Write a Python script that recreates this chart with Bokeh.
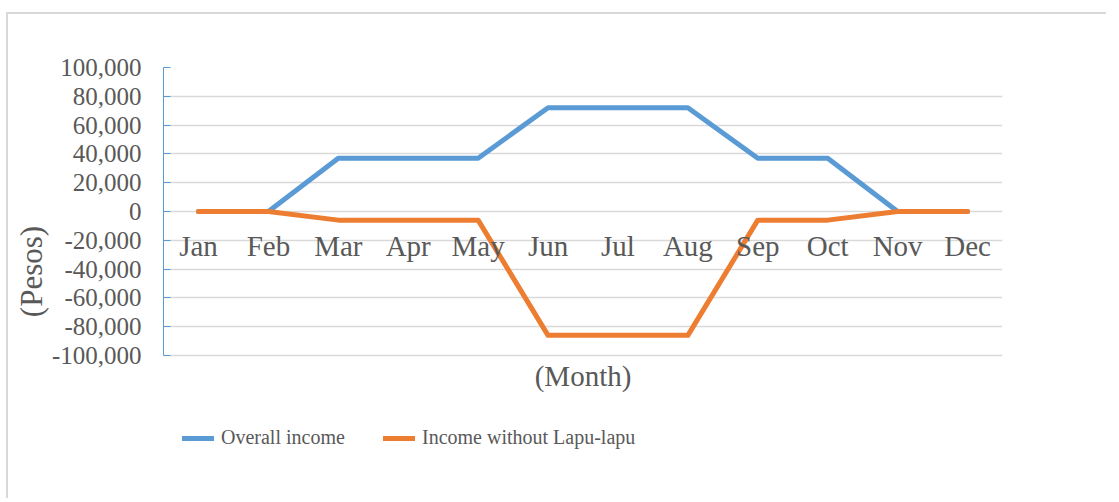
from bokeh.plotting import figure
from bokeh.models import (FactorRange, Range1d, NumeralTickFormatter, FixedTicker,
                          Legend, LegendItem, ColumnDataSource)
from bokeh.core.properties import value
from bokeh.embed import file_html
from bokeh.resources import INLINE

months = ["Jan", "Feb", "Mar", "Apr", "May", "Jun", "Jul", "Aug", "Sep", "Oct", "Nov", "Dec"]
overall_income = [0, 0, 37000, 37000, 37000, 72000, 72000, 72000, 37000, 37000, 0, 0]
income_without_lapu = [0, 0, -6000, -6000, -6000, -86000, -86000, -86000, -6000, -6000, 0, 0]
y_ticks = [-100000, -80000, -60000, -40000, -20000, 0, 20000, 40000, 60000, 80000, 100000]
series_names = ["Overall income", "Income without Lapu-lapu"]
x_title = "(Month)"
y_title = "(Pesos)"

FONT = "Liberation Serif"
TXT = "#595959"
BLUE = "#5B9BD5"
ORANGE = "#ED7D31"

# layout (pixels): value axis spans 288 px for 200,000; the frame continues
# below it to hold the axis title and the legend
AX_PX = 288.0
FRAME_PX = 408.0
y_lo, y_hi = y_ticks[0], y_ticks[-1]
y_start = y_hi - FRAME_PX * (y_hi - y_lo) / AX_PX

src = ColumnDataSource(dict(m=months, a=overall_income, b=income_without_lapu,
                            z=[0] * len(months)))

p = figure(width=1100, height=486,
           x_range=FactorRange(*months, range_padding=0),
           y_range=Range1d(y_start, y_hi),
           output_backend="svg", toolbar_location=None,
           min_border_left=155, min_border_right=106,
           min_border_top=53, min_border_bottom=25)
p.styles = {"border-top": "2px solid #d9d9d9", "border-left": "2px solid #d9d9d9",
            "margin-left": "6px", "margin-top": "12px"}
p.outline_line_color = None
p.background_fill_color = "white"
p.border_fill_color = "white"

# grid
p.xgrid.grid_line_color = None
p.ygrid.grid_line_color = "#d9d9d9"
p.ygrid.grid_line_width = 1.5

# y axis
yax = p.yaxis[0]
yax.ticker = FixedTicker(ticks=y_ticks)
yax.bounds = (y_lo, y_hi)
yax.formatter = NumeralTickFormatter(format="0,0")
yax.axis_line_color = BLUE
yax.axis_line_width = 1
yax.major_tick_line_color = BLUE
yax.major_tick_in = 7
yax.major_tick_out = 0
yax.minor_tick_line_color = None
yax.major_label_standoff = 22
yax.major_label_text_font = FONT
yax.major_label_text_font_size = "25px"
yax.major_label_text_color = TXT
yax.axis_label = y_title
yax.axis_label_text_font = FONT
yax.axis_label_text_font_size = "31px"
yax.axis_label_text_font_style = "normal"
yax.axis_label_text_color = TXT
yax.axis_label_standoff = 0

p.xaxis.visible = False

r1 = p.line("m", "a", source=src, line_color=BLUE, line_width=5,
            line_cap="round", line_join="round")
r2 = p.line("m", "b", source=src, line_color=ORANGE, line_width=5,
            line_cap="round", line_join="round")

# month labels along the zero line
p.text(x="m", y="z", text="m", source=src, text_font=value(FONT),
       text_font_size="29px", text_color=TXT, text_align="center",
       text_baseline="middle", y_offset=34)

# horizontal axis title, centred under the plot area (between Jun and Jul)
p.text(x=[months[5]], y=[y_lo], text=[x_title], x_offset=35, y_offset=20,
       text_font=value(FONT), text_font_size="29px", text_color=TXT,
       text_align="center", text_baseline="middle")

legend = Legend(items=[LegendItem(label=series_names[0], renderers=[r1]),
                       LegendItem(label=series_names[1], renderers=[r2])],
                orientation="horizontal", location=(19, 26),
                glyph_width=32, glyph_height=20, label_standoff=7,
                label_width=162, spacing=0, padding=0, margin=0,
                border_line_color=None, background_fill_alpha=0,
                label_text_font=FONT, label_text_font_size="20px",
                label_text_color=TXT)
p.add_layout(legend)

open("out.html", "w").write(file_html(p, INLINE))
